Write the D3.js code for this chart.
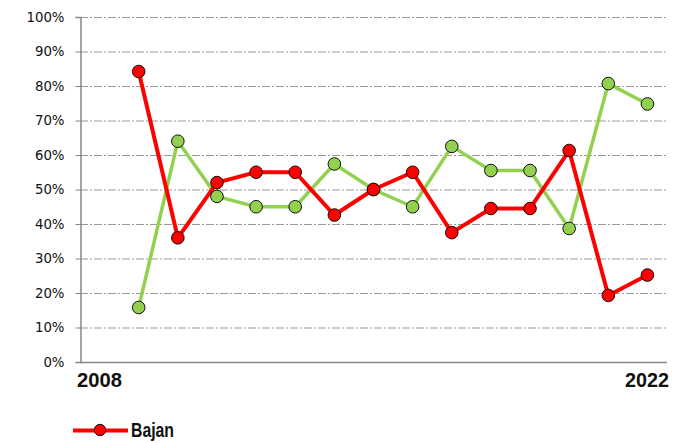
<!DOCTYPE html>
<html><head><meta charset="utf-8">
<script src="https://cdn.jsdelivr.net/npm/d3@7"></script>
<style>body{margin:0;background:#fff}svg{display:block}</style>
</head><body>
<svg id="c" width="686" height="443"></svg>
<script>
const years = [2008,2009,2010,2011,2012,2013,2014,2015,2016,2017,2018,2019,2020,2021,2022];
const bajan = [null,84.2,36,52,55,55,42.6,50,55,37.5,44.5,44.5,61.3,19.3,25.2];
const naik  = [null,15.8,64,48,45,45,57.4,50,45,62.5,55.5,55.5,38.7,80.7,74.8];
const yTicks = [0,10,20,30,40,50,60,70,80,90,100];
const xLabels = ["2008","2022"];

const svg = d3.select("#c");
const L = 80, R = 667, T = 17, B = 362;
const x = d3.scaleBand().domain(years).range([L, R]);
const y = d3.scaleLinear().domain([0,100]).range([B, T]);
const narrow = "'Liberation Sans Narrow', 'Arial Narrow', 'Liberation Sans', Arial, sans-serif";

// gridlines
svg.append("g").selectAll("line").data(yTicks.filter(d=>d>0)).join("line")
  .attr("x1", L).attr("x2", R).attr("y1", d=>y(d)+0.5).attr("y2", d=>y(d)+0.5)
  .attr("stroke", "#999").attr("stroke-width", 1).attr("stroke-dasharray", "8,2,2,2");

// y axis
const ya = svg.append("g").attr("transform", `translate(${L+0.5},0)`)
  .call(d3.axisLeft(y).tickValues(yTicks).tickFormat(d=>d+"%").tickSize(5).tickPadding(11));
ya.select(".domain").attr("stroke", "#888").attr("stroke-width", 1.5);
ya.selectAll(".tick line").attr("stroke", "#888");
ya.selectAll("text").attr("font-family", "Verdana, 'DejaVu Sans', sans-serif").attr("font-size", 13.3).attr("fill", "#111");

// x axis line
svg.append("line").attr("x1", L).attr("x2", R).attr("y1", B+0.5).attr("y2", B+0.5).attr("stroke", "#888").attr("stroke-width", 1.5);

// x labels
svg.append("text").attr("x", x(years[0]) - 3).attr("y", 387).text(xLabels[0])
  .attr("font-family", narrow).attr("font-weight", "bold").attr("font-size", 21).attr("fill", "#111")
  .attr("textLength", 45).attr("lengthAdjust", "spacingAndGlyphs");
svg.append("text").attr("x", x(years[years.length-1]) + x.bandwidth() + 2).attr("y", 387).attr("text-anchor", "end").text(xLabels[1])
  .attr("font-family", narrow).attr("font-weight", "bold").attr("font-size", 21).attr("fill", "#111")
  .attr("textLength", 44).attr("lengthAdjust", "spacingAndGlyphs");

function series(vals, color, width) {
  const pts = years.map((yr,i)=>({yr, v: vals[i]})).filter(d=>d.v!==null);
  const line = d3.line().x(d=>x(d.yr)+x.bandwidth()/2).y(d=>y(d.v));
  svg.append("path").datum(pts).attr("d", line).attr("fill","none").attr("stroke", color).attr("stroke-width", width).attr("stroke-linejoin","round");
  return pts;
}
const gp = series(naik, "#92d050", 3.5);
const rp = series(bajan, "#ff0000", 4);
function dots(pts, color) {
  svg.append("g").selectAll("circle").data(pts).join("circle")
    .attr("cx", d=>x(d.yr)+x.bandwidth()/2).attr("cy", d=>y(d.v)).attr("r", 6.3)
    .attr("fill", color).attr("stroke", "#111").attr("stroke-width", 1);
}
dots(gp, "#92d050");
dots(rp, "#ff0000");

// legend
const lg = svg.append("g");
lg.append("line").attr("x1", 73).attr("x2", 128).attr("y1", 430.5).attr("y2", 430.5).attr("stroke", "#ff0000").attr("stroke-width", 4);
lg.append("circle").attr("cx", 100).attr("cy", 430).attr("r", 5.7).attr("fill", "#ff0000").attr("stroke", "#111").attr("stroke-width", 1);
lg.append("text").attr("x", 131).attr("y", 437).text("Bajan")
  .attr("font-family", narrow).attr("font-weight", "bold").attr("font-size", 19.5).attr("fill", "#111")
  .attr("textLength", 43).attr("lengthAdjust", "spacingAndGlyphs");
</script>
</body></html>
